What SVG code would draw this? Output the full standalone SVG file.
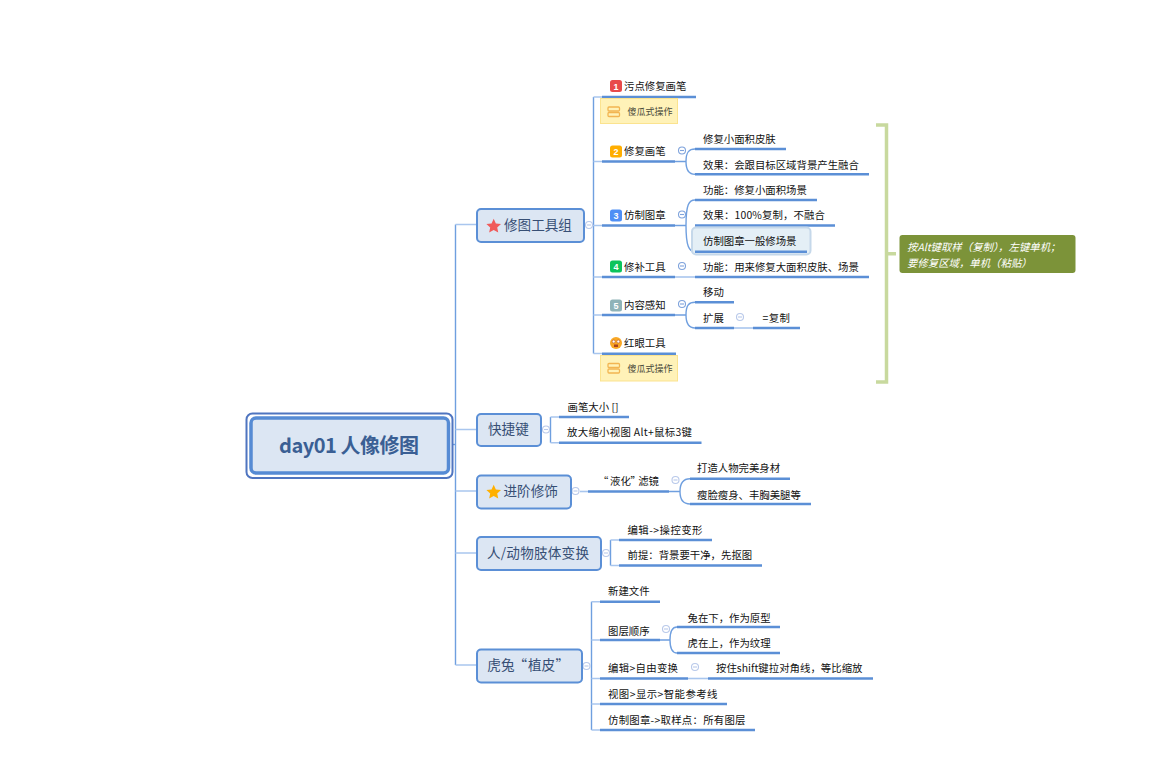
<svg xmlns="http://www.w3.org/2000/svg" width="1152" height="774" viewBox="0 0 1152 774">
<style>
text{font-family:"Noto Sans CJK SC","Noto Sans",sans-serif}
.t3{font-size:10.4px;fill:#111}
.t1{font-size:13.6px;fill:#374f75}
.num{font-size:9px;fill:#fff;text-anchor:middle;font-weight:700;font-family:"Liberation Sans",sans-serif}
.box{fill:#dce6f3;stroke:#5b8fd6;stroke-width:2}
.u{fill:none;stroke:#5b8fd6;stroke-width:2.4}
.c{fill:none;stroke:#6f9fdf;stroke-width:1.4}
.l{fill:none;stroke:#a9c6ee;stroke-width:1.6}
.col{fill:#fff;stroke:#b9c9ea;stroke-width:1.1}
.bar{fill:none;stroke:#b9c9ea;stroke-width:1.1}
.col2{fill:#fff;stroke:#7fa3dc;stroke-width:1.1}
.bar2{fill:none;stroke:#7fa3dc;stroke-width:1.1}
.note{fill:#fff2b8;stroke:#fbe38f;stroke-width:1}
.ni{fill:none;stroke:#f2b552;stroke-width:1.3}
.nt{font-size:9px;fill:#4a4a3a}
</style>
<defs><path id="star" d="M0-7.300l2.150 4.700 5.150.6-3.800 3.450 1.050 5.050L0 3.950l-4.550 2.550 1.050-5.050L-7.300-2l5.150-.6z"/></defs>
<rect width="1152" height="774" fill="#fff"/>
<g id="connectors">
<path class="c" d="M455.500 224.500V665"/>
<path class="l" d="M455.500 224.500H476M455.500 429.500H476M455.500 491H476M455.500 553H476M455.500 665H476"/>
<path class="c" d="M449 444.500H456" stroke-width="2"/>
<path class="c" d="M593.500 97V353.500"/>
<path class="l" d="M589 225.500H602M593.500 97H602M593.500 161.500H602M593.500 277H602M593.500 315H602M593.500 353.500H602"/>
<path class="u" d="M602 97H696M602 161.500H675M602 225.500H675M602 277H675M602 315H675M602 353.700H676"/>
<path class="c" d="M675 161.500H686M695 149C689 149 686 152 686 161.500C686 170 689 174.300 695 174.300"/>
<path class="u" d="M695 149H786M695 174.300H869"/>
<path class="c" d="M675 225.500H686M695 200C689 200 686 204 686 225.500C686 246 689 251.700 695 251.700"/>
<path class="u" d="M695 200H817M695 225.500H835"/>
<path class="l" d="M675 277H695"/>
<path class="u" d="M695 277H869"/>
<path class="c" d="M675 315H686M695 302.300C689 302.300 686 305 686 315C686 324 689 328 695 328"/>
<path class="u" d="M695 302.300H734M695 328H734M753 328H800"/>
<path class="l" d="M734 328H753"/>
<path class="c" d="M550.500 417V442.700"/>
<path class="l" d="M550.500 417H559M550.500 442.700H559"/>
<path class="u" d="M559 417H629M559 442.700H701.500"/>
<path class="l" d="M580 491.500H588"/>
<path class="u" d="M588 491.500H669"/>
<path class="c" d="M669 491.500H680M690 478.700C684 478.700 680 482 680 491.500C680 500 684 504 690 504"/>
<path class="u" d="M690 478.700H790M690 504H811"/>
<path class="c" d="M610.500 540V565.500"/>
<path class="l" d="M610.500 540H619M610.500 565.500H619"/>
<path class="u" d="M619 540H712M619 565.500H762"/>
<path class="c" d="M591.500 601.700V730"/>
<path class="l" d="M591.500 601.700H600M591.500 640H600M591.500 678.500H600M591.500 704H600M591.500 730H600"/>
<path class="u" d="M600 601.700H660M600 640H660M600 678.500H688M600 704H727M600 730H755"/>
<path class="c" d="M660 640H670M677 627C673 627 670 630 670 640C670 649 673 653 677 653"/>
<path class="u" d="M677 627H780M677 653H780"/>
<path class="l" d="M688 678.500H708"/>
<path class="u" d="M708 678.500H873"/>
<path fill="none" stroke="#c8d99e" stroke-width="3.500" d="M876 125H886.500V382H876M886.500 253.700H896"/>
</g>
<g id="collapse">
<circle class="col" cx="589" cy="225" r="3.500"/><path class="bar" d="M587 225H591"/>
<circle class="col2" cx="682" cy="150.500" r="3.500"/><path class="bar2" d="M680 150.500H684"/>
<circle class="col2" cx="682" cy="214.500" r="3.500"/><path class="bar2" d="M680 214.500H684"/>
<circle class="col2" cx="682" cy="266" r="3.500"/><path class="bar2" d="M680 266H684"/>
<circle class="col2" cx="682" cy="304" r="3.500"/><path class="bar2" d="M680 304H684"/>
<circle class="col" cx="740" cy="317" r="3.500"/><path class="bar" d="M738 317H742"/>
<circle class="col" cx="546" cy="429.500" r="3.500"/><path class="bar" d="M544 429.500H548"/>
<circle class="col" cx="575.500" cy="491" r="3.500"/><path class="bar" d="M573.500 491H577.500"/>
<circle class="col" cx="675.500" cy="480" r="3.500"/><path class="bar" d="M673.500 480H677.500"/>
<circle class="col" cx="606" cy="553" r="3.500"/><path class="bar" d="M604 553H608"/>
<circle class="col" cx="586.500" cy="666" r="3.500"/><path class="bar" d="M584.500 666H588.500"/>
<circle class="col" cx="666" cy="629" r="3.500"/><path class="bar" d="M664 629H668"/>
<circle class="col" cx="695" cy="667" r="3.500"/><path class="bar" d="M693 667H697"/>
</g>
<g id="central">
<rect x="246.500" y="413.500" width="206" height="64.500" rx="6" fill="#fff" stroke="#4f75c0" stroke-width="2"/>
<rect x="251" y="418" width="197.500" height="55" rx="5" fill="#dce6f3" stroke="#568bd4" stroke-width="3.500"/>
<text x="349" y="453" text-anchor="middle" font-size="20" font-weight="700" fill="#3a5f94" textLength="140">day01 人像修图</text>
</g>
<g id="n-tools"><rect class="box" x="477" y="209" width="107" height="33" rx="4"/>
<use href="#star" x="493.700" y="226" fill="#f05a5a"/>
<text class="t1" x="504" y="230">修图工具组</text></g>
<g id="n-keys"><rect class="box" x="477" y="414" width="64" height="32" rx="4"/><text class="t1" x="488" y="434">快捷键</text></g>
<g id="n-adv"><rect class="box" x="477" y="475.500" width="94" height="33" rx="4"/>
<use href="#star" x="493.700" y="492" fill="#ffb000"/>
<text class="t1" x="503.500" y="496">进阶修饰</text></g>
<g id="n-body"><rect class="box" x="477" y="537" width="124" height="33" rx="4"/><text class="t1" x="487" y="558" textLength="102">人/动物肢体变换</text></g>
<g id="n-tiger"><rect class="box" x="477" y="649.500" width="105" height="33" rx="4"/><text class="t1" x="487.300 501 513.500 528 541.600 555.500" y="670">虎兔“植皮”</text></g>
<g id="n-spot"><rect x="610" y="80" width="12" height="12" rx="2.500" fill="#e84a4a"/><text class="num" x="616" y="89.500">1</text><text class="t3" x="624" y="90.300">污点修复画笔</text></g>
<g id="note-1"><rect class="note" x="600.500" y="98.500" width="77" height="25"/><rect class="ni" x="608" y="107" width="11.500" height="4" rx="1"/><rect class="ni" x="608" y="112.500" width="11.500" height="4" rx="1"/><text class="nt" x="627.500" y="115">傻瓜式操作</text></g>
<g id="n-heal"><rect x="610" y="145.500" width="12" height="12" rx="2.500" fill="#ffae00"/><text class="num" x="616" y="155">2</text><text class="t3" x="624" y="155.300">修复画笔</text></g>
<g id="n-heal-1"><text class="t3" x="703" y="142.600">修复小面积皮肤</text></g>
<g id="n-heal-2"><text class="t3" x="703" y="168.600">效果：会跟目标区域背景产生融合</text></g>
<g id="n-clone"><rect x="610" y="209.500" width="12" height="12" rx="2.500" fill="#4f8ff5"/><text class="num" x="616" y="219">3</text><text class="t3" x="624" y="219.300">仿制图章</text></g>
<g id="n-clone-1"><text class="t3" x="703" y="193.600">功能：修复小面积场景</text></g>
<g id="n-clone-2"><text class="t3" x="703" y="219" textLength="122">效果：100%复制，不融合</text></g>
<g id="n-clone-3"><rect x="692" y="227.500" width="118.500" height="27" rx="4" fill="#e4eff6" stroke="#c5d8ea" stroke-width="2"/><path class="u" d="M695 251.700H807"/><text class="t3" x="703" y="244.600">仿制图章一般修场景</text></g>
<g id="n-patch"><rect x="610" y="260.500" width="12" height="12" rx="2.500" fill="#0cc45c"/><text class="num" x="616" y="270">4</text><text class="t3" x="624" y="270.500">修补工具</text></g>
<g id="n-patch-1"><text class="t3" x="703" y="270.600">功能：用来修复大面积皮肤、场景</text></g>
<g id="n-aware"><rect x="610" y="299.500" width="12" height="12" rx="2.500" fill="#8fb3b8"/><text class="num" x="616" y="309">5</text><text class="t3" x="624" y="309.300">内容感知</text></g>
<g id="n-aware-1"><text class="t3" x="703" y="296">移动</text></g>
<g id="n-aware-2"><text class="t3" x="703" y="321.600">扩展</text></g>
<g id="n-aware-3"><text class="t3" x="762.500" y="321.600" textLength="27.500">=复制</text></g>
<g id="n-redeye"><circle cx="616" cy="343" r="6" fill="#f9a825"/><circle cx="613.700" cy="341.500" r="1.500" fill="#fff" stroke="#b5502a" stroke-width=".6"/><circle cx="618.300" cy="341.500" r="1.500" fill="#fff" stroke="#b5502a" stroke-width=".6"/><rect x="614" y="344.500" width="4" height="2.500" fill="#a8421f"/><text class="t3" x="624" y="347">红眼工具</text></g>
<g id="note-2"><rect class="note" x="600.500" y="355.500" width="77" height="25.500"/><rect class="ni" x="608" y="363.500" width="11.500" height="4" rx="1"/><rect class="ni" x="608" y="369" width="11.500" height="4" rx="1"/><text class="nt" x="627.500" y="372">傻瓜式操作</text></g>
<g id="summary"><rect x="899.500" y="235" width="176" height="38" rx="3" fill="#7c9339"/>
<text x="907" y="251" font-size="10.400" font-style="italic" fill="#fff">按Alt键取样（复制），左键单机；</text>
<text x="907" y="266.500" font-size="10.400" font-style="italic" fill="#fff">要修复区域，单机（粘贴）</text></g>
<g id="n-keys-1"><text class="t3" x="567.500" y="410.600">画笔大小 []</text></g>
<g id="n-keys-2"><text class="t3" x="567" y="436" textLength="125">放大缩小视图 Alt+鼠标3键</text></g>
<g id="n-liquify"><text class="t3" x="598 610 620.400 630.500 638.200 648.600" y="485">“液化”滤镜</text></g>
<g id="n-liquify-1"><text class="t3" x="697" y="472">打造人物完美身材</text></g>
<g id="n-liquify-2"><text class="t3" x="697" y="498.500">瘦脸瘦身、丰胸美腿等</text></g>
<g id="n-body-1"><text class="t3" x="627.500" y="534" textLength="75">编辑->操控变形</text></g>
<g id="n-body-2"><text class="t3" x="627.500" y="558.600">前提：背景要干净，先抠图</text></g>
<g id="n-tiger-1"><text class="t3" x="608" y="595">新建文件</text></g>
<g id="n-tiger-2"><text class="t3" x="608" y="634.600">图层顺序</text></g>
<g id="n-tiger-2a"><text class="t3" x="687.500" y="621.600">兔在下，作为原型</text></g>
<g id="n-tiger-2b"><text class="t3" x="687.500" y="647">虎在上，作为纹理</text></g>
<g id="n-tiger-3"><text class="t3" x="608" y="672" textLength="70">编辑>自由变换</text></g>
<g id="n-tiger-3a"><text class="t3" x="716" y="672" textLength="146.500">按住shift键拉对角线，等比缩放</text></g>
<g id="n-tiger-4"><text class="t3" x="608" y="697.600" textLength="109.500">视图>显示>智能参考线</text></g>
<g id="n-tiger-5"><text class="t3" x="608" y="723.600" textLength="137.500">仿制图章->取样点：所有图层</text></g>
</svg>
